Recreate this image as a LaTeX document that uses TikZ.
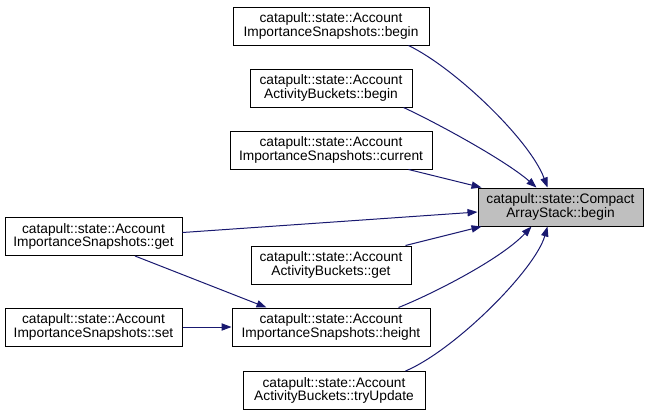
\documentclass[tikz,border=0pt]{standalone}
\usepackage{fontspec}
\setmainfont{Liberation Sans}
\usetikzlibrary{arrows.meta,calc}
\definecolor{edgeblue}{HTML}{191970}
\definecolor{curfill}{HTML}{BFBFBF}
\begin{document}
\begin{tikzpicture}[x=0.75pt,y=-0.75pt,
  box/.style={draw=black,line width=0.75pt,fill=white,minimum height=28.5pt,inner sep=0pt,
    align=center,font=\fontsize{10.3pt}{10.4pt}\selectfont},
  cur/.style={box,fill=curfill},
  edge/.style={draw=edgeblue,line width=0.75pt,-{Triangle[length=7.5pt,width=5.5pt]}}]
\useasboundingbox (0,0) rectangle (649,415);

\node[box,minimum width=147pt] (A) at (331,26) {catapult::state::Account\\ImportanceSnapshots::begin};
\node[box,minimum width=121.5pt] (B) at (331,88) {catapult::state::Account\\ActivityBuckets::begin};
\node[box,minimum width=151.5pt] (C) at (331,150) {catapult::state::Account\\ImportanceSnapshots::current};
\node[cur,minimum width=123.75pt] (T) at (560.5,207) {catapult::state::Compact\\ArrayStack::begin};
\node[box,minimum width=132.75pt] (G) at (93.5,236.5) {catapult::state::Account\\ImportanceSnapshots::get};
\node[box,minimum width=120pt] (BG) at (331,265) {catapult::state::Account\\ActivityBuckets::get};
\node[box,minimum width=148.5pt] (H) at (331,327) {catapult::state::Account\\ImportanceSnapshots::height};
\node[box,minimum width=132.75pt] (S) at (93.5,327) {catapult::state::Account\\ImportanceSnapshots::set};
\node[box,minimum width=136.5pt] (U) at (334,390.5) {catapult::state::Account\\ActivityBuckets::tryUpdate};

\draw[edge] ($(A.south east)+(-21,0)$) .. controls (455,68) and (530,140) .. ($(T.north west)+(70,0)$);
\draw[edge] ($(B.south east)+(-9,0)$) .. controls (435,122) and (505,160) .. ($(T.north west)+(59,0)$);
\draw[edge] ($(C.south east)+(-24,0)$) -- ($(T.north west)+(4,0)$);
\draw[edge] ($(G.east)+(0,-4)$) -- ($(T.west)+(0,5)$);
\draw[edge] ($(BG.north east)+(-6,0)$) -- ($(T.south west)+(4,0)$);
\draw[edge] ($(H.north east)+(-32,0)$) .. controls (430,295) and (500,260) .. ($(T.south west)+(54,0)$);
\draw[edge] ($(U.north east)+(-20,0)$) .. controls (455,350) and (535,270) .. ($(T.south west)+(70,0)$);
\draw[edge] ($(G.south)+(41.5,0)$) -- ($(H.north west)+(35,0)$);
\draw[edge] (S.east) -- (H.west);
\end{tikzpicture}
\end{document}
